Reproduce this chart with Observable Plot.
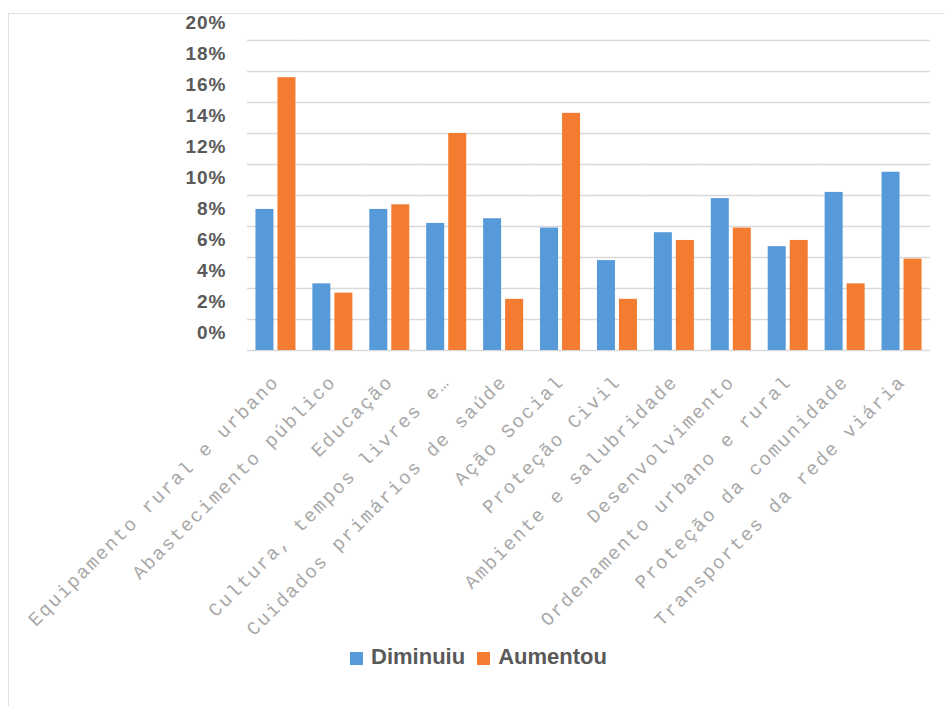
<!DOCTYPE html>
<html>
<head>
<meta charset="utf-8">
<script src="https://cdn.jsdelivr.net/npm/d3@7"></script>
<script src="https://cdn.jsdelivr.net/npm/@observablehq/plot@0.6"></script>
<style>
  html, body { margin: 0; padding: 0; background: #fff; }
  #wrap { position: relative; width: 945px; height: 706px; overflow: hidden; }
  #frame { position: absolute; left: 8px; top: 13px; width: 960px; height: 720px; border: 1px solid #e2e2e2; box-sizing: border-box; pointer-events: none; z-index: 2; }
  #chart svg { overflow: visible; }
  g[aria-label="fx-axis tick label"] text { letter-spacing: 1.9px; }
  g[aria-label="y-axis tick label"] text { letter-spacing: 1px; }
  #legend { position: absolute; left: 0; top: 644px; width: 945px; height: 26px; display: flex; justify-content: center; align-items: center; padding-left: 12px; box-sizing: border-box; font-family: "Liberation Sans", Arial, sans-serif; font-weight: bold; font-size: 22px; color: #595959; }
  .item { display: flex; align-items: center; margin: 0 6px; }
  .sw { width: 13px; height: 13px; margin-right: 8px; margin-top: 3px; }
</style>
</head>
<body>
<div id="wrap">
  <div id="frame"></div>
  <div id="chart"></div>
  <div id="legend"></div>
</div>
<script>
const categories = [
  "Equipamento rural e urbano",
  "Abastecimento público",
  "Educação",
  "Cultura, tempos livres e…",
  "Cuidados primários de saúde",
  "Ação Social",
  "Proteção Civil",
  "Ambiente e salubridade",
  "Desenvolvimento",
  "Ordenamento urbano e rural",
  "Proteção da comunidade",
  "Transportes da rede viária"
];
const series = ["Diminuiu", "Aumentou"];
const diminuiu = [9.1, 4.3, 9.1, 8.2, 8.5, 7.9, 5.8, 7.6, 9.8, 6.7, 10.2, 11.5];
const aumentou = [17.6, 3.7, 9.4, 14.0, 3.3, 15.3, 3.3, 7.1, 7.9, 7.1, 4.3, 5.9];
const yTicks = [0, 2, 4, 6, 8, 10, 12, 14, 16, 18, 20];
const yTickLabels = ["0%", "2%", "4%", "6%", "8%", "10%", "12%", "14%", "16%", "18%", "20%"];
const colors = ["#569ADA", "#F47C30"];

const data = categories.flatMap((c, i) => [
  {category: c, series: series[0], value: diminuiu[i]},
  {category: c, series: series[1], value: aumentou[i]}
]);

const plot = Plot.plot({
  width: 945,
  height: 640,
  marginTop: 40,
  marginBottom: 290,
  marginLeft: 247,
  marginRight: 15,
  style: {background: "transparent"},
  fx: {domain: categories, paddingInner: 0, paddingOuter: 0, round: false, axis: null},
  x: {domain: series, paddingInner: 0.182, paddingOuter: 0.384, round: false, axis: null},
  y: {domain: [0, 20], axis: null},
  color: {domain: series, range: colors},
  marks: [
    Plot.ruleY(yTicks, {y: d => d, stroke: "#d9d9d9", strokeWidth: 1.5}),
    Plot.barY(data, {fx: "category", x: "series", y: "value", fill: "series"}),
    Plot.axisY(yTicks, {
      anchor: "left", tickSize: 0, tickPadding: 21, dy: -18,
      tickFormat: d => yTickLabels[yTicks.indexOf(d)],
      fontSize: 19, fontWeight: "bold", fill: "#595959",
      fontFamily: "Liberation Sans, Arial, sans-serif", label: null
    }),
    Plot.axisFx({
      anchor: "bottom", tickRotate: -45, tickSize: 0, tickPadding: 28,
      fontSize: 19, fontFamily: "Liberation Mono, monospace", fill: "#a8a8a8", label: null
    })
  ]
});
document.getElementById("chart").appendChild(plot);

const legend = document.getElementById("legend");
series.forEach((s, i) => {
  const item = document.createElement("div");
  item.className = "item";
  const sw = document.createElement("span");
  sw.className = "sw";
  sw.style.background = colors[i];
  const t = document.createElement("span");
  t.textContent = s;
  item.appendChild(sw);
  item.appendChild(t);
  legend.appendChild(item);
});
</script>
</body>
</html>
